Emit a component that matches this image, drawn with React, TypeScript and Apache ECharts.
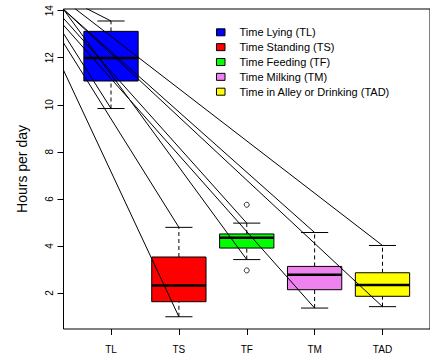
import React, { useEffect, useRef } from 'react';
import * as echarts from 'echarts';

// ---- data ----
const categories = ['TL', 'TS', 'TF', 'TM', 'TAD'];
const seriesNames = [
  'Time Lying (TL)',
  'Time Standing (TS)',
  'Time Feeding (TF)',
  'Time Milking (TM)',
  'Time in Alley or Drinking (TAD)',
];
const lowerWhisker = [9.84, 0.99, 3.42, 1.36, 1.42];
const q1 = [11.01, 1.63, 3.91, 2.14, 1.86];
const median = [11.99, 2.32, 4.35, 2.78, 2.34];
const q3 = [13.12, 3.53, 4.51, 3.13, 2.86];
const upperWhisker = [13.56, 4.79, 4.97, 4.57, 4.02];
const outlierCategory = [3, 3];
const outlierValue = [5.75, 2.96];
const yTicks = [2, 4, 6, 8, 10, 12, 14];
// diagonal lines: start point of the line that ends at each whisker end
const upperLineStartX = [0.632, 0.298, 0.298, 0.298, 0.463];
const upperLineStartY = [14.1, 12.64, 13.68, 14.06, 14.1];
const lowerLineStartX = [0.298, 0.298, 0.298, 0.298, 0.298];
const lowerLineStartY = [13.04, 11.48, 14.06, 13.39, 14.06];

const colors = ['#0000FF', '#FF0000', '#00FF00', '#EE82EE', '#FFFF00'];
const FONT = 'Liberation Sans, Arial, Helvetica, sans-serif';

export default function App() {
  const ref = useRef<HTMLDivElement>(null);
  useEffect(() => {
    if (!ref.current) return;
    const chart = echarts.init(ref.current, undefined, { renderer: 'svg' });

    const boxSeries = seriesNames.map((name, i) => ({
      type: 'custom',
      name,
      z: 3,
      data: [[i + 1, lowerWhisker[i], q1[i], median[i], q3[i], upperWhisker[i]]],
      encode: { x: 0, y: [1, 2, 3, 4, 5] },
      renderItem: (params: any, api: any) => {
        const x = api.value(0);
        const pLo = api.coord([x, api.value(1)]);
        const pQ1 = api.coord([x, api.value(2)]);
        const pMed = api.coord([x, api.value(3)]);
        const pQ3 = api.coord([x, api.value(4)]);
        const pHi = api.coord([x, api.value(5)]);
        const bw = api.size([0.8, 0])[0];
        const cw = bw / 2;
        const cx = pMed[0];
        const dashed = { stroke: '#000', lineWidth: 1, lineDash: [4, 3] };
        const solid = { stroke: '#000', lineWidth: 1 };
        return {
          type: 'group',
          children: [
            { type: 'line', shape: { x1: cx, y1: pLo[1], x2: cx, y2: pQ1[1] }, style: dashed },
            { type: 'line', shape: { x1: cx, y1: pQ3[1], x2: cx, y2: pHi[1] }, style: dashed },
            { type: 'line', shape: { x1: cx - cw / 2, y1: pLo[1], x2: cx + cw / 2, y2: pLo[1] }, style: solid },
            { type: 'line', shape: { x1: cx - cw / 2, y1: pHi[1], x2: cx + cw / 2, y2: pHi[1] }, style: solid },
            {
              type: 'rect',
              shape: { x: cx - bw / 2, y: pQ3[1], width: bw, height: pQ1[1] - pQ3[1] },
              style: { fill: colors[i], stroke: '#000', lineWidth: 1 },
            },
            { type: 'line', shape: { x1: cx - bw / 2, y1: pMed[1], x2: cx + bw / 2, y2: pMed[1] }, style: { stroke: '#000', lineWidth: 2.5 } },
          ],
        };
      },
    }));

    const diagSeries: any[] = [];
    categories.forEach((c, i) => {
      diagSeries.push({
        type: 'line',
        z: 5,
        silent: true,
        symbol: 'none',
        clip: true,
        lineStyle: { color: '#000', width: 1 },
        data: [
          [upperLineStartX[i], upperLineStartY[i]],
          [i + 1, upperWhisker[i]],
        ],
      });
      diagSeries.push({
        type: 'line',
        z: 5,
        silent: true,
        symbol: 'none',
        clip: true,
        lineStyle: { color: '#000', width: 1 },
        data: [
          [lowerLineStartX[i], lowerLineStartY[i]],
          [i + 1, lowerWhisker[i]],
        ],
      });
    });

    const legendGraphics: any[] = [];
    seriesNames.forEach((name, i) => {
      const cy = 32.3 + i * 14.85;
      legendGraphics.push({
        type: 'rect',
        shape: { x: 216.5, y: cy - 3.5, width: 8.5, height: 7 },
        style: { fill: colors[i], stroke: '#000', lineWidth: 1 },
      });
      legendGraphics.push({
        type: 'text',
        x: 239.5,
        y: cy,
        style: {
          text: name,
          font: `11px ${FONT}`,
          fill: '#000',
          verticalAlign: 'middle',
          align: 'left',
        },
      });
    });

    chart.setOption({
      animation: false,
      backgroundColor: '#fff',
      grid: {
        left: 63.5,
        top: 9,
        right: -9,
        bottom: 28,
        show: true,
        borderColor: '#000',
        borderWidth: 1,
        backgroundColor: 'transparent',
      },
      xAxis: {
        type: 'value',
        min: 0.3,
        max: 5.7,
        splitLine: { show: false },
        axisLine: { show: false },
        axisTick: {
          show: true,
          length: 6,
          inside: false,
          customValues: categories.map((_, i) => i + 1),
          lineStyle: { color: '#000' },
        },
        axisLabel: {
          show: true,
          customValues: categories.map((_, i) => i + 1),
          formatter: (v: number) => categories[Math.round(v) - 1] ?? '',
          margin: 15,
          fontSize: 10,
          fontFamily: FONT,
          color: '#000',
        },
      },
      yAxis: {
        type: 'value',
        min: 0.47,
        max: 14.07,
        splitLine: { show: false },
        axisLine: { show: false },
        name: 'Hours per day',
        nameLocation: 'middle',
        nameGap: 35,
        nameTextStyle: { fontSize: 14, fontFamily: FONT, color: '#000' },
        axisTick: {
          show: true,
          length: 6,
          inside: false,
          customValues: yTicks,
          lineStyle: { color: '#000' },
        },
        axisLabel: {
          show: true,
          customValues: yTicks,
          rotate: 90,
          margin: 9,
          fontSize: 10,
          fontFamily: FONT,
          color: '#000',
          formatter: (v: number) => String(Math.round(v)),
        },
      },
      graphic: legendGraphics,
      series: [
        ...boxSeries,
        {
          type: 'scatter',
          z: 4,
          symbol: 'circle',
          symbolSize: 5,
          itemStyle: { color: 'rgba(0,0,0,0)', borderColor: '#000', borderWidth: 1 },
          data: outlierValue.map((v, i) => [outlierCategory[i], v]),
        },
        ...diagSeries,
      ],
    });
    return () => chart.dispose();
  }, []);
  return (
    <div
      ref={ref}
      style={{ position: 'fixed', left: 0, top: 0, width: 430, height: 357, background: '#fff' }}
    />
  );
}
